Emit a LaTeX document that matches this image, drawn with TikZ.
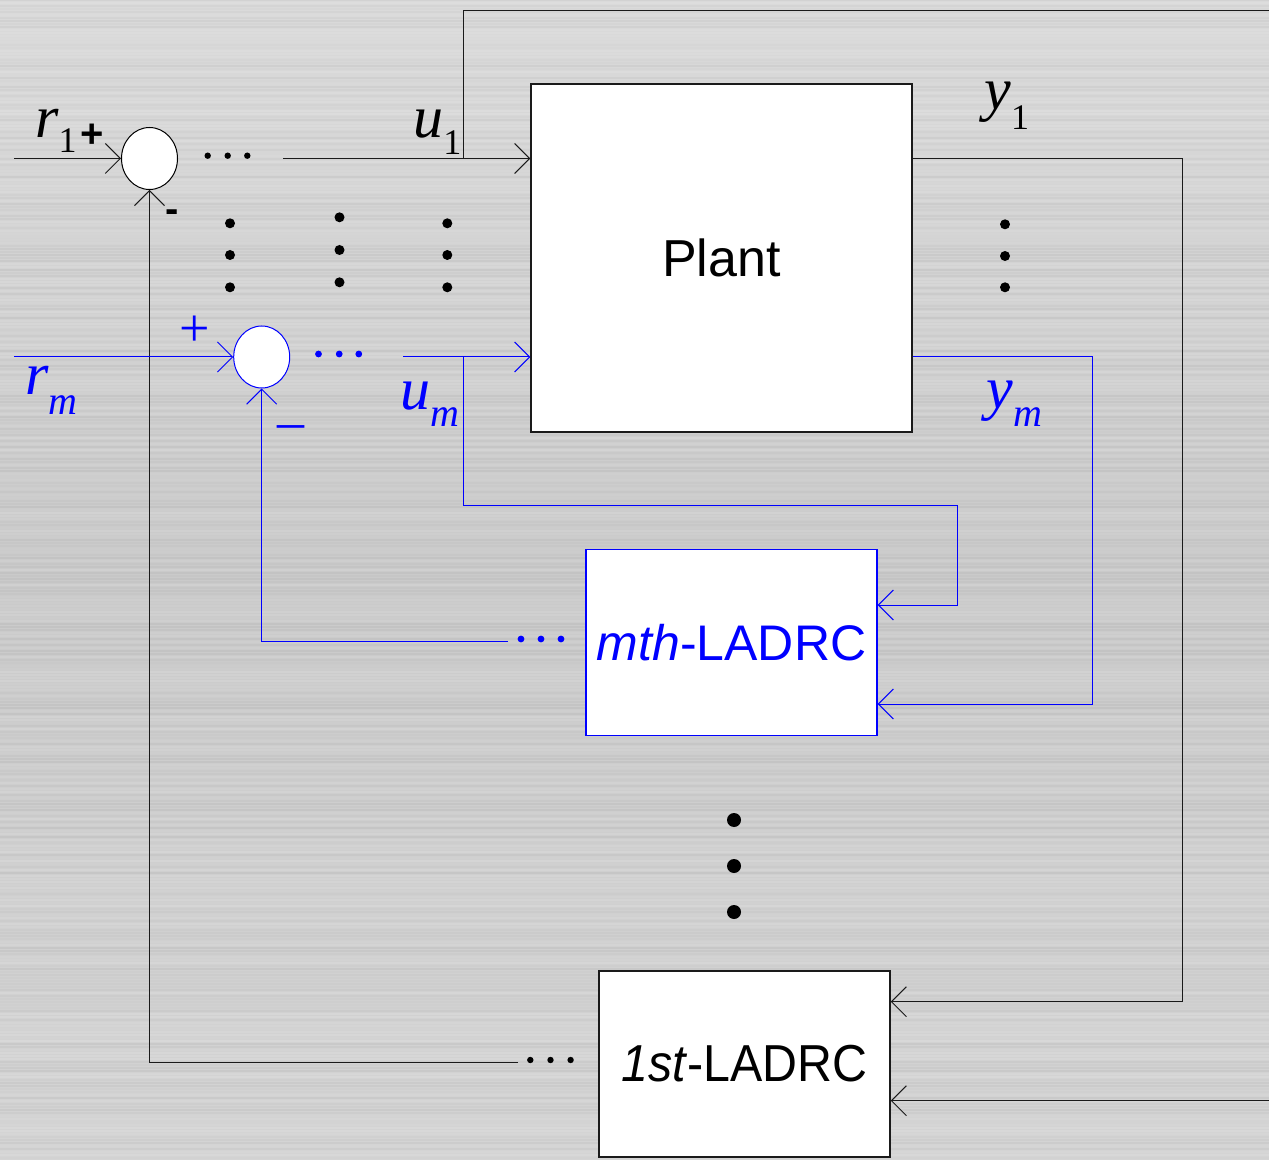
\documentclass[tikz,border=0pt]{standalone}
\usepackage{fontspec}
\usepackage{graphicx}
\setmainfont{Liberation Sans}
\newfontfamily\tnr{Liberation Serif}
\usetikzlibrary{arrows.meta,shapes.geometric}
\definecolor{bgA}{HTML}{DADADA}
\definecolor{bgB}{HTML}{CACACA}
\definecolor{bgC}{HTML}{D4D4D4}
\definecolor{linek}{HTML}{1A1A1A}
\newcommand{\subn}[2]{\raisebox{-#1}{\tnr\upshape\fontsize{18}{18}\selectfont #2}}
\newcommand{\subm}[2]{\raisebox{-#1}{\tnr\itshape\fontsize{20}{20}\selectfont #2}}
\begin{document}
\begin{tikzpicture}[x=0.5pt,y=-0.5pt,
  arr/.style={-{Straight Barb[length=7.5pt,width=15pt]}},
  wire/.style={line width=0.5pt},
  sumk/.style={ellipse,draw=black,fill=white,line width=0.5pt,minimum width=28pt,minimum height=31pt,inner sep=0pt},
  sumb/.style={sumk,draw=blue},
  blockk/.style={draw=linek,fill=white,line width=0.7pt,inner sep=0pt,font=\fontsize{26}{26}\selectfont},
  blockb/.style={blockk,draw=blue,text=blue},
  lab/.style={inner sep=0pt,anchor=base west,font={\tnr\itshape\fontsize{30}{30}\selectfont}},
  sgnk/.style={inner sep=0pt,font={\bfseries\fontsize{20}{20}\selectfont}},
  sgnb/.style={inner sep=0pt,text=blue,font={\tnr\fontsize{27}{27}\selectfont}}
]
\useasboundingbox (0,0) rectangle (1269,1160);
\clip (0,0) rectangle (1269,1160);
\shade[top color=bgA,bottom color=bgC,middle color=bgB] (0,0) rectangle (1269,1160);
\pgfmathsetseed{17}
\foreach \i in {0,...,386}{
  \pgfmathsetmacro{\op}{0.02+0.12*rnd}
  \pgfmathsetmacro{\wc}{rnd>0.5 ? 1 : 0}
  \ifdim\wc pt>0.5pt
    \draw[white,opacity=\op,line width=0.7pt] (0,3*\i) -- (1269,3*\i);
  \else
    \draw[black,opacity=0.3*\op,line width=0.7pt] (0,3*\i) -- (1269,3*\i);
  \fi
}

% nodes
\node[sumk] (s1) at (149.5,158.5) {};
\node[sumb] (sm) at (261.7,357) {};
\node[blockk,minimum width=190.5pt,minimum height=174pt] (plant) at (721.5,258) {Plant};
\node[blockb,minimum width=145.5pt,minimum height=93pt,font=\fontsize{25}{25}\selectfont] (mth) at (731.5,642.5) {\textit{mth}-LADRC};
\node[blockk,minimum width=145.5pt,minimum height=93pt] (first) at (744.5,1064) {\scalebox{0.93}[1]{\textit{1st}-LADRC}};

% coordinates (free ends and corners)
\coordinate (r1in) at (14,158.5);
\coordinate (u1s) at (283,158.5);
\coordinate (u1b) at (463.3,158.5);
\coordinate (topr) at (1275,10.3);
\coordinate (yb) at (1275,1100.7);
\coordinate (y1r) at (1182,1001.7);
\coordinate (fb1) at (518,1062.3);
\coordinate (rmin) at (14,357);
\coordinate (ums) at (403.3,357);
\coordinate (umb) at (463.5,357);
\coordinate (uml) at (957.5,505.7);
\coordinate (m1) at (957.5,605);
\coordinate (m2) at (1092.2,704);
\coordinate (fbm) at (507.5,641.7);

% black connectors
\draw[wire,linek,arr] (r1in) -- (s1.west);
\draw[wire,linek,arr] (u1s) -- (u1s -| plant.west);
\draw[wire,linek,arr] (u1b) |- (topr) |- (first.east |- yb);
\draw[wire,linek,arr] (plant.east |- u1s) -| (y1r) -- (first.east |- y1r);
\draw[wire,linek,arr] (fb1) -| (s1.south);

% blue connectors
\draw[wire,blue,arr] (rmin) -- (sm.west);
\draw[wire,blue,arr] (ums) -- (ums -| plant.west);
\draw[wire,blue,arr] (umb) |- (uml) |- (m1 -| mth.east);
\draw[wire,blue,arr] (plant.east |- ums) -| (m2) -- (m2 -| mth.east);
\draw[wire,blue,arr] (fbm) -| (sm.south);

% horizontal dots
\foreach \x in {207.7,227.7,247.3} \fill (\x,155.7) circle[radius=1.6pt];
\foreach \x in {318.5,339.2,358.8} \fill[blue] (\x,354) circle[radius=1.7pt];
\foreach \x in {521,541,561} \fill[blue] (\x,639) circle[radius=1.7pt];
\foreach \x in {530.3,550.5,570.6} \fill (\x,1060) circle[radius=1.6pt];

% vertical dots
\foreach \y in {223.3,255,287.3} \fill (230,\y) circle[radius=2.5pt];
\foreach \y in {217.3,250,282.3} \fill (339.5,\y) circle[radius=2.5pt];
\foreach \y in {223.3,255,287.3} \fill (447.3,\y) circle[radius=2.5pt];
\foreach \y in {224.3,256,287.3} \fill (1005,\y) circle[radius=2.5pt];
\foreach \y in {820,866,912} \fill (734,\y) circle[radius=3.5pt];

% signs
\node[sgnk] (p1) at (92,135.7) {+};
\node[sgnk] (n1) at (172,215.7) {-};
\node[sgnb] (pm) at (195,331.7) {+};
\node[sgnb] (nm) at (290.7,432.3) {\textendash};

% labels
\node[lab] (lr1) at (35,138) {r\subn{7.5pt}{1}};
\node[lab] (lu1) at (413,138) {u\subn{8.5pt}{1}};
\node[lab] (ly1) at (984,110) {y\subn{10pt}{1}};
\node[lab,text=blue] (lrm) at (25,395) {r\subm{9.5pt}{m}};
\node[lab,text=blue] (lum) at (400,410) {u\subm{8.5pt}{m}};
\node[lab,text=blue] (lym) at (986,409) {y\subm{9pt}{m}};
\end{tikzpicture}
\end{document}
